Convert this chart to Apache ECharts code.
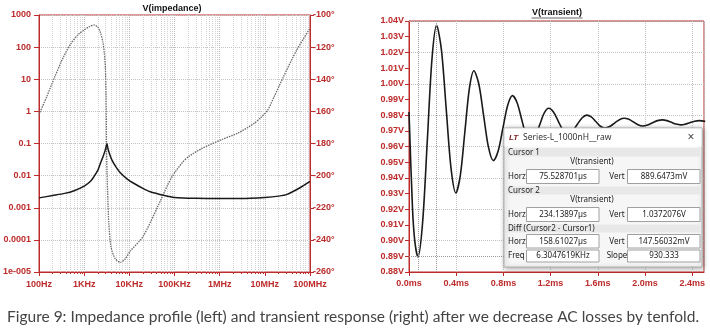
<!DOCTYPE html>
<html><head><meta charset="utf-8">
<script src="https://cdn.jsdelivr.net/npm/echarts@6/dist/echarts.min.js"></script>
<style>html,body{margin:0;padding:0;background:#fff}#c{width:710px;height:334px}</style>
</head><body><div id="c"></div>
<script>
// ---- Left chart: impedance magnitude (ohm, log) and phase (deg) ----
const magFreqHz = [100, 200, 370, 600, 1000, 1400, 1660, 2000, 2300, 2600, 2900, 3100, 3200, 3350, 3700, 4100, 5000, 6300, 9000, 12200, 20000, 28000, 60000, 100000, 300000, 1e6, 3e6, 1e7, 2e7, 3.1e7, 6e7, 1e8];
const magOhm =    [0.00203, 0.0024, 0.0028, 0.0034, 0.0047, 0.0068, 0.0095, 0.0145, 0.0247, 0.038, 0.06, 0.085, 0.099, 0.07, 0.045, 0.031, 0.019, 0.0123, 0.0078, 0.0059, 0.004, 0.0032, 0.0024, 0.0021, 0.00198, 0.00195, 0.00195, 0.0021, 0.0023, 0.0026, 0.0042, 0.0066];
const phaseFreqHz = [100, 150, 223, 350, 513, 750, 1000, 1300, 1660, 2000, 2300, 2600, 2800, 2950, 3050, 3120, 3200, 3350, 3500, 3900, 4800, 6300, 8000, 10500, 20000, 43000, 70000, 91000, 148000, 209000, 407000, 1.1e6, 2.56e6, 5.9e6, 8e6, 11.4e6, 16e6, 26e6, 51e6, 1e8];
const phaseDeg =    [-162, -150.5, -138.5, -126, -117.6, -112, -109.3, -107.2, -106.2, -107.5, -111, -117, -124, -133, -150, -180, -198, -215, -229, -244, -251.5, -254, -252, -247, -238, -219, -206, -200, -192, -188, -183, -177.6, -173.5, -167.3, -164, -159.5, -151, -138.3, -121.7, -108.3];
const freqTickValues = [1e2, 1e3, 1e4, 1e5, 1e6, 1e7, 1e8];
const freqTickLabels = ['100Hz', '1KHz', '10KHz', '100KHz', '1MHz', '10MHz', '100MHz'];
const ohmTickValues = [1e-5, 1e-4, 1e-3, 1e-2, 1e-1, 1, 10, 100, 1000];
const ohmTickLabels = ['1e-005', '0.0001', '0.001', '0.01', '0.1', '1', '10', '100', '1000'];

// ---- Right chart: transient voltage ----
const timeMs =     [0, 0.03, 0.05, 0.0755, 0.115, 0.155, 0.1945, 0.234, 0.2748, 0.3155, 0.3563, 0.397, 0.4353, 0.4735, 0.5118, 0.55, 0.5913, 0.6325, 0.6738, 0.715, 0.7555, 0.796, 0.8365, 0.877, 0.9153, 0.9535, 0.9918, 1.03, 1.0685, 1.107, 1.1455, 1.184, 1.2243, 1.2645, 1.3048, 1.345, 1.3853, 1.4255, 1.4658, 1.506, 1.5445, 1.583, 1.6215, 1.66, 1.701, 1.742, 1.783, 1.824, 1.863, 1.902, 1.941, 1.98, 2.022, 2.064, 2.106, 2.148, 2.186, 2.224, 2.262, 2.30, 2.34, 2.38, 2.42, 2.46, 2.51];
const vTransient = [0.982, 0.92, 0.899, 0.8896, 0.9112, 0.9634, 1.0156, 1.0372, 1.0216, 0.9838, 0.946, 0.9304, 0.9418, 0.9694, 0.997, 1.0083, 1.0, 0.9797, 0.9594, 0.951, 0.9571, 0.9717, 0.9863, 0.9924, 0.9881, 0.9777, 0.9673, 0.963, 0.9661, 0.9737, 0.9813, 0.9844, 0.982, 0.9762, 0.9704, 0.968, 0.9698, 0.974, 0.9782, 0.980, 0.9789, 0.9759, 0.9729, 0.9717, 0.9727, 0.9749, 0.9771, 0.978, 0.9773, 0.9756, 0.9739, 0.9731, 0.9737, 0.9751, 0.9765, 0.977, 0.9765, 0.9754, 0.9743, 0.9738, 0.9742, 0.9752, 0.9761, 0.9765, 0.976];
const cursorTimesMs = [0.075528701, 0.23413897];
const cursorVolts = [0.8896473, 1.0372076];

const red = '#bd2b2b';
const axisFont = {color: red, fontSize: 9, fontWeight: 'bold', fontFamily: 'Liberation Sans, Arial, sans-serif'};
const minorFreqs = [];
for (let d = 2; d < 8; d++) for (let k = 2; k <= 9; k++) minorFreqs.push(k * Math.pow(10, d));

const freqLabel = v => freqTickLabels[Math.round(Math.log10(v)) - 2] || '';
const ohmLabel = v => ohmTickLabels[Math.round(Math.log10(v)) + 5] || '';

const uiFont = 'Noto Sans, DejaVu Sans, sans-serif';
function T(x, y, text, opt) {
  return {type: 'text', x: x, y: y, z: 100, silent: true,
    style: Object.assign({text: text, fontSize: 8, fontFamily: uiFont, fill: '#222', verticalAlign: 'middle', align: 'left'}, opt || {})};
}
function R(x, y, w, h, fill, stroke, extra) {
  return {type: 'rect', z: 100, silent: true, shape: {x: x, y: y, width: w, height: h},
    style: Object.assign({fill: fill, stroke: stroke || null, lineWidth: 1}, extra || {})};
}
const boxStroke = '#a0a0a0';
const dialog = [
  R(504, 128, 198, 139, '#f6f6f6', '#b0b0b0', {shadowBlur: 5, shadowColor: 'rgba(0,0,0,0.35)', shadowOffsetX: 1, shadowOffsetY: 1}),
  R(504.5, 128.5, 197, 18, '#ffffff', null),
  T(509, 138, 'LT', {fontStyle: 'italic', fontWeight: 'bold', fill: '#7a1d1d', fontSize: 8, fontFamily: 'Liberation Sans, Arial'}),
  T(523, 138, 'Series-L_1000nH__raw', {fontSize: 8.5, fill: '#333'}),
  T(691, 138, '×', {fontSize: 12, align: 'center', fill: '#444'}),
  R(506, 148, 194, 8.5, '#e8e8e8', null),
  T(508, 152.5, 'Cursor 1'),
  T(592, 161.5, 'V(transient)', {align: 'center'}),
  T(508, 176.5, 'Horz'),
  R(526.5, 169.5, 72.5, 14, '#fff', boxStroke),
  T(563, 176.5, '75.528701µs', {align: 'center'}),
  T(617, 176.5, 'Vert', {align: 'center'}),
  R(627.5, 169.5, 72.5, 14, '#fff', boxStroke),
  T(664, 176.5, '889.6473mV', {align: 'center'}),
  R(506, 186.5, 194, 8, '#e8e8e8', null),
  T(508, 190.5, 'Cursor 2'),
  T(592, 200, 'V(transient)', {align: 'center'}),
  T(508, 214.5, 'Horz'),
  R(526.5, 207.5, 72.5, 14, '#fff', boxStroke),
  T(563, 214.5, '234.13897µs', {align: 'center'}),
  T(617, 214.5, 'Vert', {align: 'center'}),
  R(627.5, 207.5, 72.5, 14, '#fff', boxStroke),
  T(664, 214.5, '1.0372076V', {align: 'center'}),
  R(506, 224.5, 194, 8, '#e8e8e8', null),
  T(508, 228.5, 'Diff (Cursor2 - Cursor1)'),
  T(508, 241.5, 'Horz'),
  R(526.5, 234.5, 72.5, 13.5, '#fff', boxStroke),
  T(563, 241.5, '158.61027µs', {align: 'center'}),
  T(617, 241.5, 'Vert', {align: 'center'}),
  R(627.5, 234.5, 72.5, 13.5, '#fff', boxStroke),
  T(664, 241.5, '147.56032mV', {align: 'center'}),
  T(508, 256, 'Freq'),
  R(526.5, 250, 72.5, 12, '#fff', boxStroke),
  T(563, 256, '6.3047619KHz', {align: 'center'}),
  T(617, 256, 'Slope', {align: 'center'}),
  R(627.5, 250, 72.5, 12, '#fff', boxStroke),
  T(664, 256, '930.333', {align: 'center'})
];

const titleFont = {fontSize: 9, fontWeight: 'bold', fontFamily: 'Liberation Sans, Arial, sans-serif', fill: '#111'};
const graphics = [
  T(172, 9, 'V(impedance)', Object.assign({align: 'center'}, titleFont)),
  T(557, 12.5, 'V(transient)', Object.assign({align: 'center'}, titleFont)),
  {type: 'line', z: 100, silent: true, shape: {x1: 531.5, y1: 18, x2: 582.5, y2: 18}, style: {stroke: '#666', lineWidth: 1}},
  T(7, 317, 'Figure 9: Impedance profile (left) and transient response (right) after we decrease AC losses by tenfold.',
    {fontSize: 15.5, fill: '#444', fontFamily: 'Lato, Liberation Sans, sans-serif'})
].concat(dialog);

const chart = echarts.init(document.getElementById('c'), null, {renderer: 'canvas'});
chart.setOption({
  animation: false,
  backgroundColor: '#fff',
  grid: [
    {left: 34, top: 15, right: 400, bottom: 62, show: true, borderColor: red, borderWidth: 1, backgroundColor: 'transparent'},
    {left: 409, top: 21, right: 6, bottom: 62, show: true, borderColor: red, borderWidth: 1, backgroundColor: 'transparent'}
  ],
  xAxis: [
    {type: 'log', logBase: 10, gridIndex: 0, min: 100, max: 1e8, position: 'bottom',
      axisLine: {show: true, lineStyle: {color: red}},
      axisTick: {show: true, length: 4, lineStyle: {color: red}, customValues: freqTickValues},
      axisLabel: Object.assign({margin: 8, customValues: freqTickValues, formatter: freqLabel}, axisFont),
      splitLine: {show: true, lineStyle: {color: '#bdbdbd', type: 'dotted'}}},
    {type: 'log', logBase: 10, gridIndex: 0, min: 100, max: 1e8, position: 'bottom',
      axisLine: {show: false},
      axisTick: {show: true, length: 2, lineStyle: {color: red}, customValues: minorFreqs},
      axisLabel: {show: false},
      splitLine: {show: true, lineStyle: {color: '#d2d2d2', type: 'dotted'}}},
    {type: 'value', gridIndex: 1, min: 0, max: 2.5, interval: 0.4, position: 'bottom',
      axisLine: {show: true, lineStyle: {color: red}},
      axisTick: {show: true, length: 4, lineStyle: {color: red}},
      axisLabel: Object.assign({margin: 7, showMaxLabel: false, formatter: v => v.toFixed(1) + 'ms'}, axisFont),
      splitLine: {show: true, lineStyle: {color: '#c2c2c2', type: 'dotted'}}}
  ],
  yAxis: [
    {type: 'log', logBase: 10, gridIndex: 0, min: 1e-5, max: 1000, position: 'left',
      axisLine: {show: true, lineStyle: {color: red}},
      axisTick: {show: true, length: 5, lineStyle: {color: red}, customValues: ohmTickValues},
      axisLabel: Object.assign({margin: 8, customValues: ohmTickValues, formatter: ohmLabel}, axisFont),
      splitLine: {show: true, lineStyle: {color: '#c2c2c2', type: 'dotted'}}},
    {type: 'value', gridIndex: 0, min: -260, max: -100, interval: 20, position: 'right',
      axisLine: {show: true, lineStyle: {color: red}},
      axisTick: {show: true, length: 4, lineStyle: {color: red}},
      axisLabel: Object.assign({margin: 3, formatter: v => v + '°'}, axisFont),
      splitLine: {show: false}},
    {type: 'value', gridIndex: 1, min: 0.88, max: 1.04, interval: 0.01, position: 'left',
      axisLine: {show: true, lineStyle: {color: red}},
      axisTick: {show: true, length: 4, lineStyle: {color: red}},
      axisLabel: Object.assign({margin: 5, formatter: v => v.toFixed(2) + 'V'}, axisFont),
      splitLine: {show: false}},
    {type: 'value', gridIndex: 1, min: 0.88, max: 1.04, interval: 0.02, position: 'left',
      axisLine: {show: false}, axisTick: {show: false}, axisLabel: {show: false},
      splitLine: {show: true, lineStyle: {color: '#c2c2c2', type: 'dotted'}}}
  ],
  series: [
    {name: 'phase', type: 'line', xAxisIndex: 0, yAxisIndex: 1, showSymbol: false, smooth: 0.25, z: 3,
      data: phaseFreqHz.map((f, i) => [f, phaseDeg[i]]),
      lineStyle: {color: '#6a6a6a', width: 1.3, type: [1.5, 1]}},
    {name: 'magnitude', type: 'line', xAxisIndex: 0, yAxisIndex: 0, showSymbol: false, smooth: 0.25, z: 4,
      data: magFreqHz.map((f, i) => [f, magOhm[i]]),
      lineStyle: {color: '#1a1a1a', width: 1.5}},
    {name: 'transient', type: 'line', xAxisIndex: 2, yAxisIndex: 2, showSymbol: false, smooth: 0.3, z: 4,
      data: timeMs.map((t, i) => [t, vTransient[i]]),
      lineStyle: {color: '#1a1a1a', width: 1.6},
      markLine: {silent: true, symbol: 'none', label: {show: false},
        lineStyle: {color: '#999', type: 'dotted', width: 1},
        data: [{xAxis: cursorTimesMs[0]}, {xAxis: cursorTimesMs[1]}, {yAxis: cursorVolts[0]}, {yAxis: cursorVolts[1]}]}}
  ],
  graphic: {elements: graphics}
});
</script></body></html>
